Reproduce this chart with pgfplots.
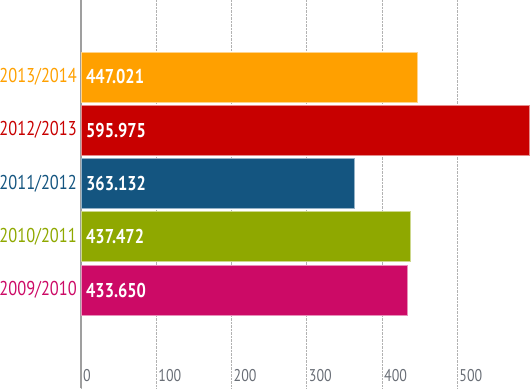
\documentclass[border=0pt]{standalone}
\usepackage{pgfplots}
\pgfplotsset{compat=1.18}
\usepackage{fontspec}
\setmainfont{PT Sans}[FakeStretch=0.82]
\definecolor{cA}{RGB}{204,10,102}
\definecolor{cB}{RGB}{143,168,0}
\definecolor{cC}{RGB}{20,85,128}
\definecolor{cD}{RGB}{200,0,0}
\definecolor{cE}{RGB}{255,160,0}
\definecolor{tickgray}{RGB}{105,110,118}
\begin{document}
\begin{tikzpicture}
\begin{axis}[
  scale only axis, width=450pt, height=388pt,
  xmin=0, xmax=598, ymin=-1.84, ymax=5.446,
  axis y line*=left, axis x line*=bottom,
  x axis line style={draw=none},
  y axis line style={draw=gray!75, line width=1.2pt},
  xtick={0,100,...,500}, ytick={0,1,2,3,4},
  yticklabels={\textcolor{cA}{2009/2010},\textcolor{cB}{2010/2011},\textcolor{cC}{2011/2012},\textcolor{cD}{2012/2013},\textcolor{cE}{2013/2014}},
  major tick length=0pt,
  xmajorgrids, grid style={densely dotted, gray!60, line width=0.8pt},
  /pgf/number format/assume math mode=true,
  xticklabel style={anchor=south west, inner sep=0pt, xshift=2pt, yshift=6pt, font=\fontsize{17}{20}\selectfont, text=tickgray},
  yticklabel style={anchor=east, inner sep=0pt, xshift=-4pt, font=\fontsize{20}{24}\selectfont},
  clip=false,
]
\addplot[xbar, bar shift=0pt, bar width=0.94, fill=cA, draw=cA!45!white, line width=0.6pt] coordinates {(433.650,0)};
\addplot[xbar, bar shift=0pt, bar width=0.94, fill=cB, draw=cB!45!white, line width=0.6pt] coordinates {(437.472,1)};
\addplot[xbar, bar shift=0pt, bar width=0.94, fill=cC, draw=cC!45!white, line width=0.6pt] coordinates {(363.132,2)};
\addplot[xbar, bar shift=0pt, bar width=0.94, fill=cD, draw=cD!45!white, line width=0.6pt] coordinates {(595.975,3)};
\addplot[xbar, bar shift=0pt, bar width=0.94, fill=cE, draw=cE!45!white, line width=0.6pt] coordinates {(447.021,4)};
\addplot[only marks, mark=*, mark size=0pt, mark options={draw=none, fill=none},
  nodes near coords, point meta=explicit symbolic,
  nodes near coords style={anchor=west, text=white, inner sep=0pt, xshift=5pt, font=\bfseries\fontsize{20}{24}\selectfont}]
  coordinates {(0,0)[433.650] (0,1)[437.472] (0,2)[363.132] (0,3)[595.975] (0,4)[447.021]};
\end{axis}
\pgfresetboundingbox
\path (current axis.south west) ++(-81pt,0pt) rectangle (current axis.north east);
\end{tikzpicture}
\end{document}
